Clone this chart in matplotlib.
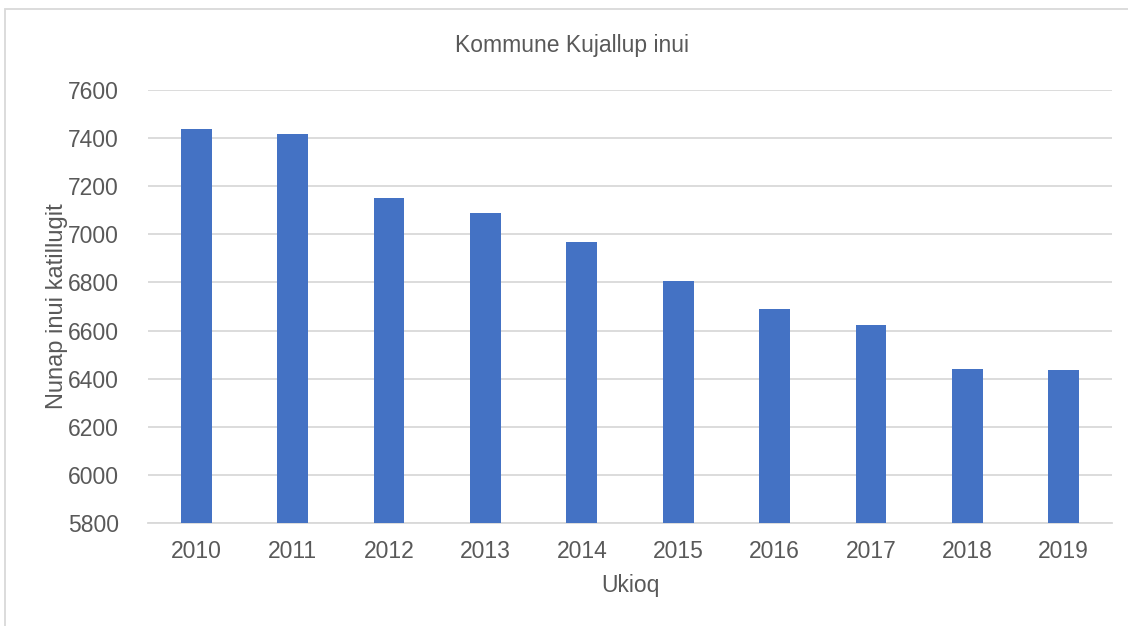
import matplotlib
matplotlib.use("Agg")
import matplotlib.pyplot as plt
from matplotlib.patches import Rectangle

# data
years = ["2010", "2011", "2012", "2013", "2014", "2015", "2016", "2017", "2018", "2019"]
population = [7438, 7417, 7151, 7089, 6969, 6808, 6691, 6622, 6440, 6437]
yticks = [5800, 6000, 6200, 6400, 6600, 6800, 7000, 7200, 7400, 7600]

plt.rcParams['font.family'] = ['Liberation Sans', 'DejaVu Sans']
text_col = '#595959'

fig = plt.figure(figsize=(11.28, 6.26), dpi=100)
ax = fig.add_axes([0.1312, 0.1645, 0.8546, 0.6917])

x = range(len(years))
ax.bar(x, population, width=0.32, color='#4472C4', zorder=3)

ax.set_xlim(-0.5, len(years) - 0.5)
ax.set_ylim(yticks[0], yticks[-1])
ax.set_yticks(yticks)
ax.set_xticks(list(x))
ax.set_xticklabels(years)
ax.grid(axis='y', color='#d9d9d9', linewidth=1.3, zorder=0)
for s in ['top', 'right', 'left']:
    ax.spines[s].set_visible(False)
ax.spines['bottom'].set_color('#d9d9d9')
ax.spines['bottom'].set_linewidth(1.3)
ax.tick_params(axis='both', length=0, labelsize=16.5, labelcolor=text_col)
ax.tick_params(axis='y', pad=21)
ax.tick_params(axis='x', pad=12)

# title sits centred on the whole chart, not on the plot area
fig.text(0.507, 0.928, "Kommune Kujallup inui", fontsize=16.5, color=text_col,
         ha='center', va='center')
ax.set_xlabel("Ukioq", fontsize=16.5, color=text_col, labelpad=8)
ax.set_ylabel("Nunap inui katillugit", fontsize=17, color=text_col, labelpad=0)

# light frame around the chart (left and top edges visible)
fig.patches.append(Rectangle((5 / 1128, -0.05), 1.2, 1 - 9 / 626 + 0.05,
                             transform=fig.transFigure, fill=False,
                             edgecolor='#d9d9d9', linewidth=1.3))

fig.savefig("out.png", dpi=100)
